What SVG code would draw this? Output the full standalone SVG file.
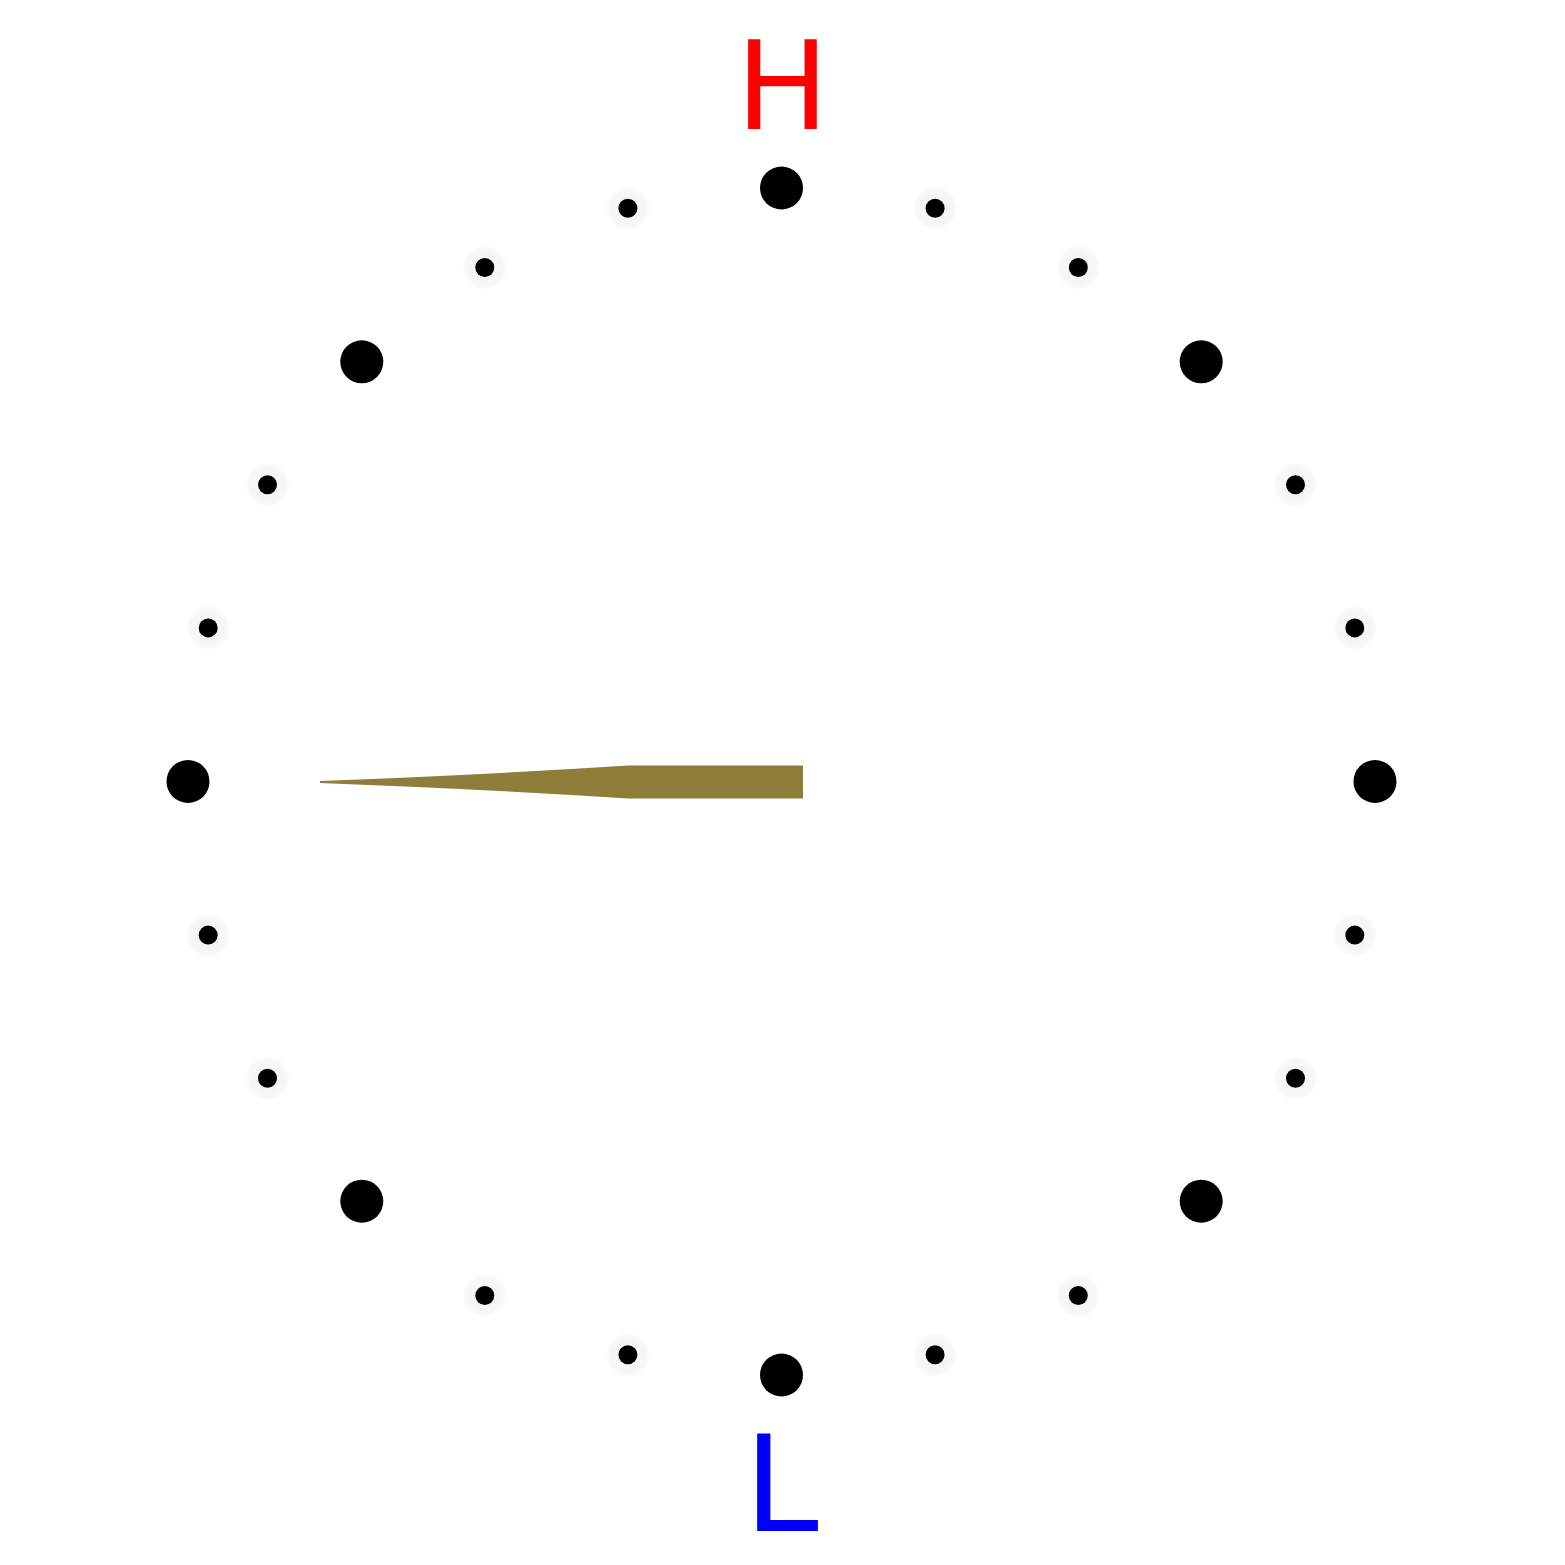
<svg xmlns="http://www.w3.org/2000/svg" xmlns:xlink="http://www.w3.org/1999/xlink" width="1565" height="1565" viewBox="0 0 1565 1565">
<style>
.big{fill:#000}
.halo{fill:url(#haloGrad)}
.dot{fill:#000}
.lbl{font-family:"DejaVu Sans",sans-serif}
</style>
<defs>
<radialGradient id="haloGrad">
<stop offset="0" stop-color="#f4f4f4"/>
<stop offset="0.8" stop-color="#f7f7f7"/>
<stop offset="1" stop-color="#fdfdfd"/>
</radialGradient>
<g id="small"><circle class="halo" r="22"/><circle class="dot" r="9.5"/></g>
<circle id="large" class="big" r="21.5"/>
</defs>
<rect width="1565" height="1565" fill="#fff"/>
<g id="ticks">
<g id="t0"><use xlink:href="#large" x="781.5" y="188"/></g>
<g id="t15"><use xlink:href="#small" x="935.1" y="208.2"/></g>
<g id="t30"><use xlink:href="#small" x="1078.3" y="267.5"/></g>
<g id="t45"><use xlink:href="#large" x="1201.2" y="361.8"/></g>
<g id="t60"><use xlink:href="#small" x="1295.5" y="484.8"/></g>
<g id="t75"><use xlink:href="#small" x="1354.8" y="627.9"/></g>
<g id="t90"><use xlink:href="#large" x="1375" y="781.5"/></g>
<g id="t105"><use xlink:href="#small" x="1354.8" y="935.1"/></g>
<g id="t120"><use xlink:href="#small" x="1295.5" y="1078.3"/></g>
<g id="t135"><use xlink:href="#large" x="1201.2" y="1201.2"/></g>
<g id="t150"><use xlink:href="#small" x="1078.3" y="1295.5"/></g>
<g id="t165"><use xlink:href="#small" x="935.1" y="1354.8"/></g>
<g id="t180"><use xlink:href="#large" x="781.5" y="1375"/></g>
<g id="t195"><use xlink:href="#small" x="627.9" y="1354.8"/></g>
<g id="t210"><use xlink:href="#small" x="484.8" y="1295.5"/></g>
<g id="t225"><use xlink:href="#large" x="361.8" y="1201.2"/></g>
<g id="t240"><use xlink:href="#small" x="267.5" y="1078.3"/></g>
<g id="t255"><use xlink:href="#small" x="208.2" y="935.1"/></g>
<g id="t270"><use xlink:href="#large" x="188" y="781.5"/></g>
<g id="t285"><use xlink:href="#small" x="208.2" y="627.9"/></g>
<g id="t300"><use xlink:href="#small" x="267.5" y="484.8"/></g>
<g id="t315"><use xlink:href="#large" x="361.8" y="361.8"/></g>
<g id="t330"><use xlink:href="#small" x="484.8" y="267.5"/></g>
<g id="t345"><use xlink:href="#small" x="627.9" y="208.2"/></g>
</g>
<g id="hand">
<path d="M320,781 Q480,775 628,765.5 L803,765.5 L803,798.5 L628,798.5 Q480,789 320,783 Z" fill="#8f7d3a"/>
</g>
<g id="labels">
<text class="lbl" x="782.5" y="129" font-size="123.5" fill="#ff0000" text-anchor="middle">H</text>
<text class="lbl" x="744" y="1531" font-size="134" fill="#0000ff">L</text>
</g>
</svg>
